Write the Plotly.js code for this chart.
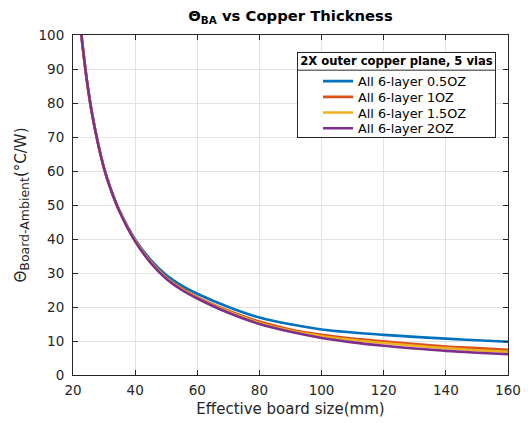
<!DOCTYPE html>
<html>
<head>
<meta charset="utf-8">
<script src="https://cdn.plot.ly/plotly-3.0.1.min.js"></script>
<style>html,body{margin:0;padding:0;background:#fff;}#chart{width:528px;height:423px;}</style>
</head>
<body>
<div id="chart"></div>
<script>
const boardSize = [22,23,24,25,26,28,30,32,35,40,45,50,55,60,70,80,90,100,110,120,130,140,150,160];
const theta05oz = [106.5,97.5,89.8,83.2,77.5,68.3,60.8,55.0,48.3,39.9,33.9,29.4,26.3,23.9,20.0,16.9,14.9,13.4,12.5,11.8,11.2,10.7,10.2,9.8];
const theta1oz  = [106.5,97.5,89.8,83.2,77.5,68.3,60.8,55.0,48.15,39.6,33.4,28.7,25.45,22.9,18.9,15.7,13.4,11.8,10.7,9.9,9.1,8.4,7.9,7.4];
const theta15oz = [106.5,97.5,89.8,83.2,77.5,68.3,60.8,55.0,48.1,39.5,33.2,28.5,25.2,22.7,18.6,15.3,13.0,11.4,10.3,9.4,8.6,7.9,7.3,6.8];
const theta2oz  = [106.5,97.5,89.8,83.2,77.5,68.3,60.8,55.0,48.0,39.3,33.0,28.3,25.0,22.5,18.3,15.0,12.7,10.9,9.6,8.6,7.8,7.1,6.55,6.1];
const seriesNames = ['All 6-layer 0.5OZ','All 6-layer 1OZ','All 6-layer 1.5OZ','All 6-layer 2OZ'];
const seriesColors = ['#0072BD','#D95319','#EDB120','#7E2F8E'];
const xTicks = [20,40,60,80,100,120,140,160];
const yTicks = [0,10,20,30,40,50,60,70,80,90,100];

const FONT = 'DejaVu Sans, sans-serif';
const ys = [theta05oz, theta1oz, theta15oz, theta2oz];
const traces = ys.map((y,i)=>({
  x: boardSize, y: y, type:'scatter', mode:'lines', name: seriesNames[i],
  line:{color: seriesColors[i], width:2.6, shape:'spline', smoothing:1}
}));

const axisCommon = {
  showline:true, linecolor:'#262626', linewidth:1, mirror:'ticks',
  ticks:'inside', ticklen:5, tickcolor:'#262626', tickwidth:1,
  showgrid:true, gridcolor:'#e3e3e3', gridwidth:1, zeroline:false,
  tickfont:{family:FONT, size:13.5, color:'#262626'}
};

const layout = {
  width:528, height:423,
  margin:{l:73, r:20, t:35, b:48},
  paper_bgcolor:'#fff', plot_bgcolor:'#fff',
  showlegend:true,
  title:{text:'<b>Θ<sub>BA</sub> vs Copper Thickness</b>', font:{family:FONT, size:14.8, color:'#000'},
         x:0.5, xref:'paper', y:0.962, yref:'container', yanchor:'middle'},
  xaxis: Object.assign({}, axisCommon, {range:[20,160], tickvals:xTicks, ticktext:xTicks.map(String), ticklabelstandoff:3,
    title:{text:'Effective board size(mm)', font:{family:FONT, size:15, color:'#262626'}, standoff:6}}),
  yaxis: Object.assign({}, axisCommon, {range:[0,100], tickvals:yTicks, ticktext:yTicks.map(String), ticklabelstandoff:5,
    title:{text:'Θ<sub><span style="font-size:12.5px">Board-Ambient</span></sub>(°C/W)', font:{family:FONT, size:15, color:'#262626'}, standoff:8}}),
  legend:{x:0.515, y:0.951, xanchor:'left', yanchor:'top', bgcolor:'rgba(0,0,0,0)', bordercolor:'#262626', borderwidth:1,
    font:{family:FONT, size:12.8, color:'#000'}, tracegroupgap:0, itemwidth:30,
    title:{text:'<b>2X outer copper plane, 5 vias</b>', side:'top center', font:{family:FONT, size:11.6, color:'#000'}}},
  shapes:[]
};

// legend row geometry relative to the legend box top (px)
const ROW = 15.7, FIRST_ROW = 29.5, SEP = 18, BOX_H = 85, SHIFT_X = 20, TITLE_DY = -3;
const gd = document.getElementById('chart');
Plotly.newPlot(gd, traces, layout, {displayModeBar:false, staticPlot:true}).then(()=>{
  const sz = gd._fullLayout._size;
  const base = gd.getBoundingClientRect();
  const lg = gd.querySelector('.legend');
  const bgEl = lg.querySelector('.bg');
  const bg = bgEl.getBoundingClientRect();
  const bgH0 = parseFloat(bgEl.getAttribute('height'));
  const items = Array.from(lg.querySelectorAll('.traces'));
  const orig = items.map(el => {
    const m = /translate\(\s*([-\d.e]+)[ ,]+([-\d.e]+)\s*\)/.exec(el.getAttribute('transform') || 'translate(0,0)');
    return [parseFloat(m[1]), parseFloat(m[2])];
  });
  const t0 = items[0].querySelector('.legendtext').getBoundingClientRect();
  const c0 = (t0.top + t0.bottom)/2;
  const dY = (bg.top + FIRST_ROW) - c0;
  const newH = bgH0 - (bg.height - BOX_H);
  const newBottom = bg.top + BOX_H;
  const sepY = bg.top + SEP;
  const px2x = p => (p - base.left - sz.l)/sz.w;
  const px2y = p => 1 - (p - base.top - sz.t)/sz.h;
  const apply = () => {
    const L = gd.querySelector('.legend');
    Array.from(L.querySelectorAll('.traces')).forEach((el,i)=>{
      el.setAttribute('transform', 'translate(' + (orig[i][0]+SHIFT_X) + ',' + (orig[0][1] + dY + i*ROW) + ')');
    });
    L.querySelector('.bg').setAttribute('height', newH);
    const tt = L.querySelector('.legendtitletext');
    if (tt) tt.setAttribute('transform', 'translate(0,' + TITLE_DY + ')');
  };
  return Plotly.relayout(gd, {shapes:[
    {type:'rect', xref:'paper', yref:'paper', layer:'above', x0:px2x(bg.left), x1:px2x(bg.right), y0:px2y(newBottom), y1:px2y(bg.top), fillcolor:'#fff', line:{width:0}},
    {type:'line', xref:'paper', yref:'paper', layer:'above', x0:px2x(bg.left), x1:px2x(bg.right), y0:px2y(sepY), y1:px2y(sepY), line:{color:'#262626', width:1}}
  ]}).then(apply);
});
</script>
</body>
</html>
